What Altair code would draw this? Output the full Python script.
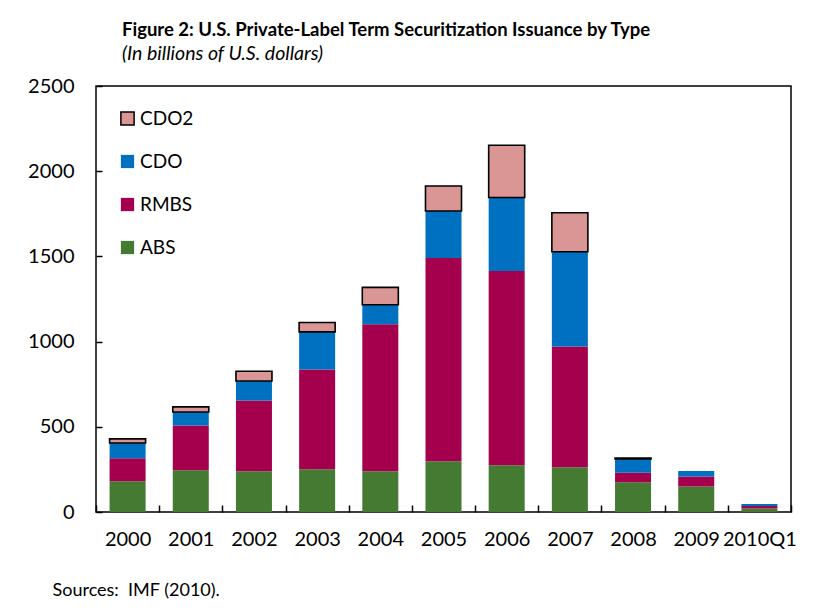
import altair as alt
import pandas as pd

years = ["2000", "2001", "2002", "2003", "2004", "2005", "2006", "2007", "2008", "2009", "2010Q1"]
abs_v = [180, 245, 239, 251, 239, 298, 274, 263, 174, 149, 20]
rmbs_v = [135, 262, 415, 585, 863, 1192, 1141, 708, 57, 59, 15]
cdo_v = [90, 80, 115, 221, 114, 276, 431, 556, 80, 33, 12]
cdo2_v = [24, 30, 57, 55, 102, 147, 306, 229, 6, 0, 0]

types = ["CDO2", "CDO", "RMBS", "ABS"]
colors = ["#DA9694", "#0070C0", "#A5004E", "#447A32"]
strokes = ["#000000", "transparent", "transparent", "transparent"]
stack_order = {"ABS": 0, "RMBS": 1, "CDO": 2, "CDO2": 3}

rows = []
for t, vals in zip(["ABS", "RMBS", "CDO", "CDO2"], [abs_v, rmbs_v, cdo_v, cdo2_v]):
    for y, v in zip(years, vals):
        if v > 0:
            rows.append({"year": y, "type": t, "value": v, "ord": stack_order[t]})
df = pd.DataFrame(rows)

FONT = "Lato"

legend = alt.Legend(
    title=None, orient="none", legendX=22, legendY=23, padding=0,
    symbolType="square", symbolSize=175, symbolStrokeWidth=1.5,
    labelFontSize=19, labelFont=FONT, labelColor="#000", labelOffset=3,
    rowPadding=22, symbolOpacity=1,
)

bars = alt.Chart(df).mark_bar(width=alt.RelativeBandSize(0.57), strokeWidth=1.6, opacity=1).encode(
    x=alt.X(
        "year:N", sort=years,
        scale=alt.Scale(paddingInner=0, paddingOuter=0),
        axis=alt.Axis(
            title="Sources:\u00a0\u00a0IMF (2010).", titleX=-44, titleY=76, titleAlign="left",
            titleFont=FONT, titleFontSize=18, titleFontWeight="normal", titleColor="#000",
            labelAngle=0, labelFont=FONT, labelFontSize=20, labelColor="#000",
            labelPadding=17, tickBand="extent", tickSize=7, tickColor="#000",
            tickWidth=1.5, offset=-7, domain=False, labelOverlap=False,
        ),
    ),
    y=alt.Y(
        "value:Q", stack="zero",
        scale=alt.Scale(domain=[0, 2500], nice=False),
        axis=alt.Axis(
            title=None, values=[0, 500, 1000, 1500, 2000, 2500], format="d",
            labelFont=FONT, labelFontSize=20, labelColor="#000", labelPadding=22,
            tickSize=6, tickColor="#000", tickWidth=1.5, offset=-6, domain=False,
            grid=False,
        ),
    ),
    color=alt.Color("type:N", scale=alt.Scale(domain=types, range=colors), legend=legend),
    stroke=alt.Stroke("type:N", scale=alt.Scale(domain=types, range=strokes), legend=legend),
    order=alt.Order("ord:Q", sort="ascending"),
)

chart = bars.properties(
    width=695, height=426,
    autosize=alt.AutoSizeParams(type="none"),
    padding={"left": 88, "top": 78, "right": 10, "bottom": 92},
    title=alt.TitleParams(
        text="Figure 2: U.S. Private-Label Term Securitization Issuance by Type",
        subtitle="(In billions of U.S. dollars)",
        anchor="start", frame="group", dx=26, offset=13,
        font=FONT, fontSize=18.5, fontWeight="bold", color="#000",
        subtitleFont=FONT, subtitleFontSize=19.5, subtitleFontStyle="italic",
        subtitleColor="#000", subtitlePadding=5,
    ),
).configure_view(stroke="#000", strokeWidth=1.5).configure_axis(grid=False)

chart.save("out.html", embed_options={"renderer": "svg", "actions": False})
